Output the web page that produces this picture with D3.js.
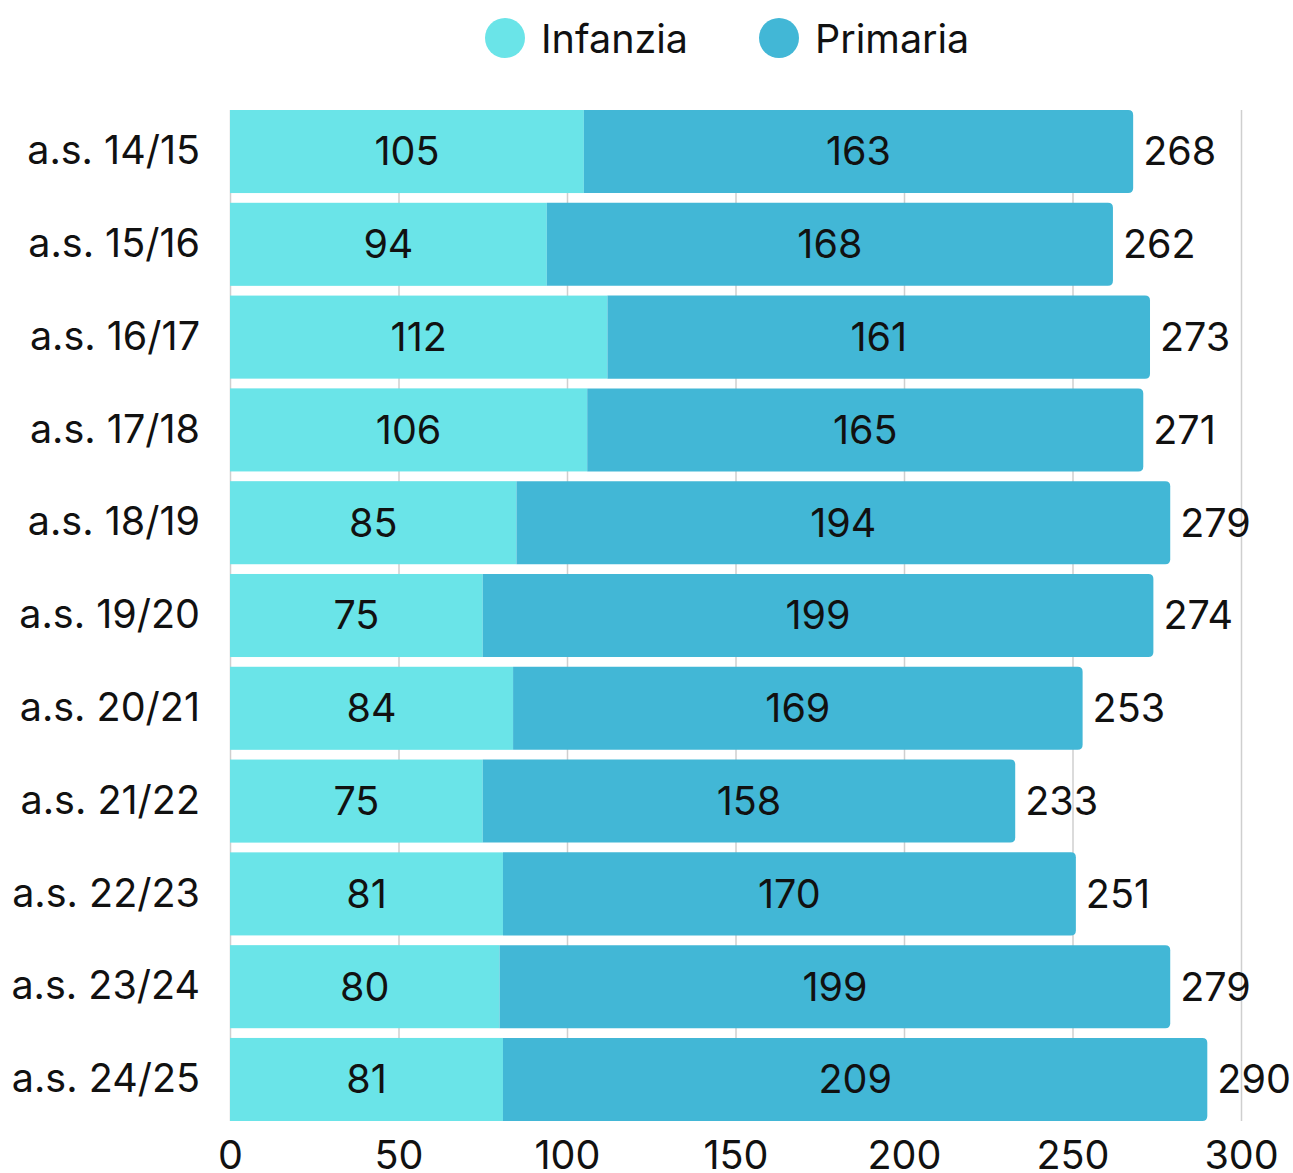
<!DOCTYPE html>
<html>
<head>
<meta charset="utf-8">
<script src="https://cdn.jsdelivr.net/npm/d3@7"></script>
<style>
  body { margin: 0; background: #fff; }
  text { font-family: Inter, "Noto Sans", sans-serif; fill: #111; }
</style>
</head>
<body>
<svg id="chart" width="1293" height="1173"></svg>
<script>
const years = ['a.s. 14/15', 'a.s. 15/16', 'a.s. 16/17', 'a.s. 17/18', 'a.s. 18/19',
  'a.s. 19/20', 'a.s. 20/21', 'a.s. 21/22', 'a.s. 22/23', 'a.s. 23/24', 'a.s. 24/25'];
const infanzia = [105, 94, 112, 106, 85, 75, 84, 75, 81, 80, 81];
const primaria = [163, 168, 161, 165, 194, 199, 169, 158, 170, 199, 209];
const seriesNames = ['Infanzia', 'Primaria'];
const xTicks = [0, 50, 100, 150, 200, 250, 300];

const colors = { Infanzia: '#6ae4e8', Primaria: '#42b7d6' };
const fontSize = 39.5;

const svg = d3.select('#chart');
const margin = { left: 230, right: 52, top: 110, bottom: 52 };
const width = +svg.attr('width');
const height = +svg.attr('height');

const x = d3.scaleLinear().domain([0, 300]).range([margin.left, width - margin.right]);
const y = d3.scaleBand().domain(years)
  .range([margin.top, height - margin.bottom])
  .paddingInner(0.105).paddingOuter(0);

const rows = years.map((yr, i) => ({ year: yr, Infanzia: infanzia[i], Primaria: primaria[i] }));
const stacked = d3.stack().keys(seriesNames)(rows);

// grid
svg.append('g')
  .attr('transform', `translate(0, ${y.range()[1]})`)
  .call(d3.axisBottom(x).tickValues(xTicks).tickSize(-(y.range()[1] - y.range()[0])).tickFormat(''))
  .call(g => g.select('.domain').remove())
  .call(g => g.selectAll('line').attr('stroke', '#cfcfcf').attr('stroke-width', 1.5));

// tick labels
svg.append('g')
  .attr('transform', `translate(0, ${y.range()[1]})`)
  .call(d3.axisBottom(x).tickValues(xTicks).tickSize(0).tickPadding(20))
  .call(g => g.select('.domain').remove())
  .call(g => g.selectAll('text').attr('font-size', fontSize).style('font-family', 'Inter, sans-serif').attr('fill', '#111'));

// y labels
svg.append('g')
  .attr('transform', `translate(${margin.left}, 0)`)
  .call(d3.axisLeft(y).tickSize(0).tickPadding(30))
  .call(g => g.select('.domain').remove())
  .call(g => g.selectAll('text').attr('font-size', fontSize).style('font-family', 'Inter, sans-serif').attr('fill', '#111'));

const r = 5;
stacked.forEach((layer, li) => {
  const g = svg.append('g');
  layer.forEach((d, i) => {
    const x0 = x(d[0]), x1 = x(d[1]);
    const y0 = y(years[i]), h = y.bandwidth();
    if (li === stacked.length - 1) {
      g.append('path')
        .attr('fill', colors[layer.key])
        .attr('d', `M${x0},${y0}H${x1 - r}Q${x1},${y0} ${x1},${y0 + r}V${y0 + h - r}Q${x1},${y0 + h} ${x1 - r},${y0 + h}H${x0}Z`);
    } else {
      g.append('rect')
        .attr('x', x0).attr('y', y0)
        .attr('width', x1 - x0).attr('height', h)
        .attr('fill', colors[layer.key]);
    }
    g.append('text')
      .attr('x', (x0 + x1) / 2)
      .attr('y', y0 + h / 2)
      .attr('dy', '0.35em')
      .attr('text-anchor', 'middle')
      .attr('font-size', fontSize)
      .text(d[1] - d[0]);
  });
});

// totals
svg.append('g').selectAll('text')
  .data(rows)
  .join('text')
  .attr('x', d => x(d.Infanzia + d.Primaria) + 10)
  .attr('y', d => y(d.year) + y.bandwidth() / 2)
  .attr('dy', '0.35em')
  .attr('font-size', fontSize)
  .text(d => d.Infanzia + d.Primaria);

// legend
const legend = svg.append('g');
const legendX = [505, 779];
seriesNames.forEach((name, i) => {
  legend.append('circle')
    .attr('cx', legendX[i]).attr('cy', 38).attr('r', 20)
    .attr('fill', colors[name]);
  legend.append('text')
    .attr('x', legendX[i] + 36).attr('y', 39)
    .attr('dy', '0.35em')
    .attr('font-size', fontSize)
    .text(name);
});
</script>
</body>
</html>
